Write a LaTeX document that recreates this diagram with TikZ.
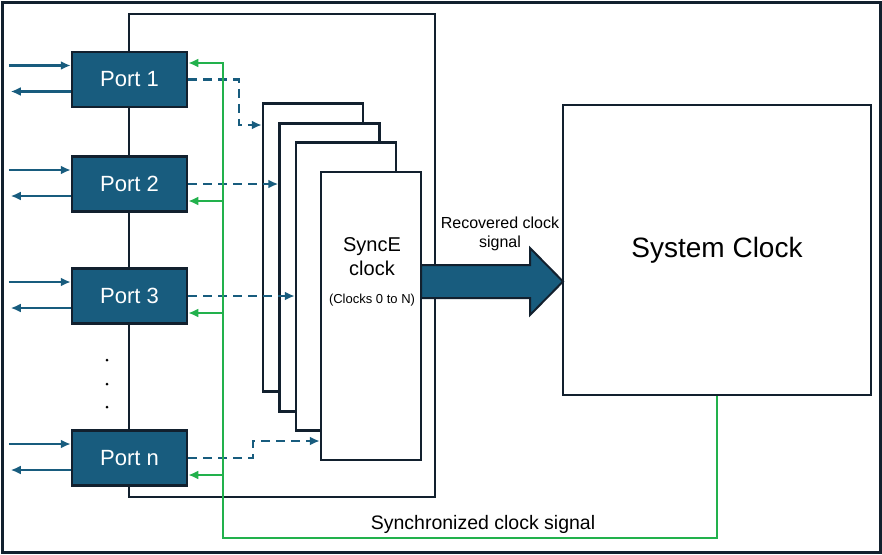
\documentclass[tikz,border=0pt]{standalone}
\usepackage{fontspec}
\setmainfont{Liberation Sans}
\usetikzlibrary{arrows.meta}
\definecolor{portblue}{RGB}{24,92,126}
\definecolor{edge}{RGB}{18,32,46}
\definecolor{syncgreen}{RGB}{34,177,76}
\tikzset{
  port/.style={draw=edge,line width=2.5pt,fill=portblue,text=white,minimum width=115pt,minimum height=55pt,font=\fontsize{22}{26}\selectfont},
  clkbox/.style={draw=edge,line width=2.5pt,fill=white,minimum width=100pt,minimum height=288pt},
  tip/.style={-{Latex[length=10pt,width=9pt]}},
  ext/.style={portblue,line width=2.4pt,tip},
  dashlink/.style={portblue,line width=2.4pt,dash pattern=on 9pt off 6pt,tip},
  syncline/.style={syncgreen,line width=2.4pt},
}

\begin{document}
\begin{tikzpicture}[x=1pt,y=-1pt]
  \useasboundingbox (0,0) rectangle (882,554);
  \draw[edge,line width=3pt] (2,2) rectangle (880,552);
  \draw[edge,line width=2.5pt] (129,14) rectangle (435,497);
  % ports
  \node[port] (port1) at (129.5,79.5) {Port 1};
  \node[port] (port2) at (129.5,184) {Port 2};
  \node[port] (port3) at (129.5,296) {Port 3};
  \node[port] (portn) at (129.5,458) {Port n};
  \foreach \y in {360,384,407} \fill (107,\y) circle (1.5);
  \foreach \p in {port1,port2,port3,portn}{
    \draw[ext] ([xshift=-62pt,yshift=14pt]\p.west) -- ([yshift=14pt]\p.west);
    \draw[ext] ([yshift=-12pt]\p.west) -- ([xshift=-60pt,yshift=-12pt]\p.west);
  }
  % SyncE clocks
  \node[clkbox] (clk1) at (313,247.5) {};
  \node[clkbox] (clk2) at (329.5,267.5) {};
  \node[clkbox] (clk3) at (346,286.5) {};
  \node[clkbox] (clk4) at (371,316) {};
  \node[font=\fontsize{20}{24}\selectfont,align=center] (synce) at (372,257) {SyncE\\clock};
  \node[font=\fontsize{13}{15}\selectfont] (range) at (372,300) {(Clocks 0 to N)};
  \coordinate (k1) at (239,125);
  \coordinate (kn) at (253,441);
  \draw[dashlink] (port1.east) -| (k1) -- (k1 -| clk1.west);
  \draw[dashlink] (port2.east) -- (port2.east -| clk2.west);
  \draw[dashlink] (port3.east) -- (port3.east -| clk3.west);
  \draw[dashlink] (portn.east) -| (kn) -- (kn -| clk4.west);
  % system clock
  \node[draw=edge,line width=2.5pt,fill=white,minimum width=308pt,minimum height=290pt,font=\fontsize{28}{34}\selectfont] (sysclk) at (717,250) {System Clock};
  \draw[edge,line width=2pt,fill=portblue] (421,265) -- (530,265) -- (530,248) -- (563,281.5) -- (530,315) -- (530,298) -- (421,298) -- cycle;
  \node[font=\fontsize{16}{19}\selectfont,align=center] (reclbl) at (500,234) {Recovered clock\\signal};
  % synchronized clock
  \coordinate (gb) at (223,538);
  \draw[syncline,tip] (sysclk.south) |- (gb) |- ([yshift=16.5pt]port1.east);
  \foreach \p in {port2,port3,portn}{
    \coordinate (g) at ([yshift=-17pt]\p.east);
    \draw[syncline,tip] (g -| gb) -- (g);
  }
  \node[font=\fontsize{19.5}{23}\selectfont] (synclbl) at (483,524) {Synchronized clock signal};
\end{tikzpicture}
\end{document}
